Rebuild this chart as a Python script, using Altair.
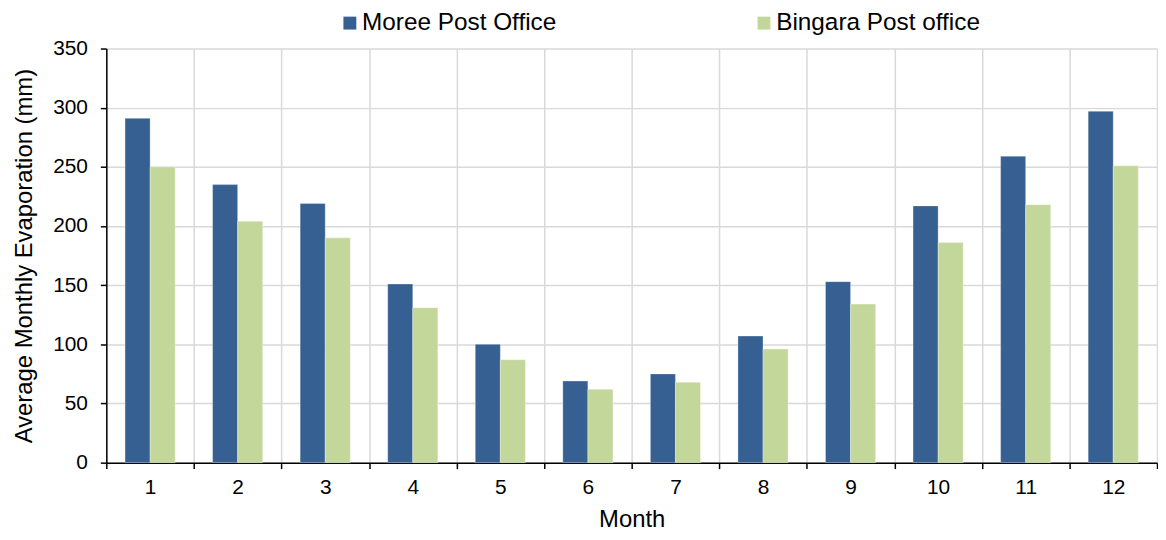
import altair as alt
import pandas as pd

months = list(range(1, 13))
moree = [291, 235, 219, 151, 100, 69, 75, 107, 153, 217, 259, 297]
bingara = [250, 204, 190, 131, 87, 62, 68, 96, 134, 186, 218, 251]
stations = ["Moree Post Office", "Bingara Post office"]
colors = ["#366092", "#C4D79B"]
y_ticks = [0, 50, 100, 150, 200, 250, 300, 350]

rows = []
for m, a, b in zip(months, moree, bingara):
    rows.append({"Month": m, "Station": stations[0], "Evap": a})
    rows.append({"Month": m, "Station": stations[1], "Evap": b})
df = pd.DataFrame(rows)

W = 1058
H = 417
FONT = "Liberation Sans"

chart = alt.Chart(df).mark_bar(stroke="white", strokeWidth=0.6, strokeOpacity=0.5).encode(
    x=alt.X(
        "Month:O",
        scale=alt.Scale(paddingInner=0, paddingOuter=0),
        axis=alt.Axis(
            title="Month", labelAngle=0, tickBand="extent", grid=True,
            gridColor="#d9d9d9", gridWidth=1.5,
            domainColor="black", domainWidth=1.5,
            tickColor="black", tickWidth=1.5, tickSize=6,
            labelFontSize=21, labelPadding=8, labelColor="black", labelFont=FONT,
            titleFontSize=24, titleFontWeight="normal", titleColor="black", titleFont=FONT,
            titlePadding=10,
        ),
    ),
    xOffset=alt.XOffset("Station:N", sort=stations,
                        scale=alt.Scale(paddingOuter=0.747, paddingInner=0)),
    y=alt.Y(
        "Evap:Q",
        scale=alt.Scale(domain=[0, 350], nice=False),
        axis=alt.Axis(
            title="Average Monthly Evaporation (mm)", values=y_ticks,
            gridColor="#d9d9d9", gridWidth=1.5,
            domainColor="black", domainWidth=1.5,
            tickColor="black", tickWidth=1.5, tickSize=6,
            labelFontSize=21, labelPadding=13, labelColor="black", labelFont=FONT,
            titleFontSize=24, titleFontWeight="normal", titleColor="black", titleFont=FONT,
            titlePadding=16,
        ),
    ),
    color=alt.Color(
        "Station:N", sort=stations,
        scale=alt.Scale(domain=stations, range=colors),
        legend=alt.Legend(
            title=None, orient="none", legendX=233, legendY=-38,
            direction="horizontal", columnPadding=196,
            symbolType="square", symbolSize=169, symbolStrokeWidth=0,
            labelFontSize=24.5, labelFont=FONT, labelColor="black", labelOffset=0,
            labelLimit=0,
        ),
    ),
).properties(
    width=W, height=H,
    padding={"left": 4, "top": 1, "right": 0, "bottom": 0},
).configure_view(stroke=None)

chart.save("out.html", embed_options={"renderer": "svg", "actions": False})
